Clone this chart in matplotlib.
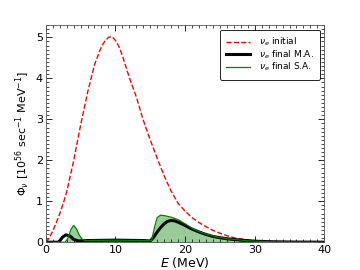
import matplotlib
matplotlib.use("Agg")
import matplotlib.pyplot as plt
from matplotlib.ticker import MultipleLocator

# initial nu_e spectrum
E_init = [0, 0.5, 1, 1.5, 2, 2.5, 3, 4, 5, 6, 7, 8, 8.5, 9, 9.5, 10, 10.5, 11, 12, 13, 14, 15, 16, 17,
          18, 19, 20, 21, 22, 23, 24, 25, 26, 27, 28, 29, 30, 32, 35, 40]
phi_init = [0, 0.1, 0.27, 0.47, 0.69, 0.94, 1.22, 1.98, 2.85, 3.65, 4.33, 4.78, 4.91, 5.0, 5.02, 4.93,
            4.78, 4.56, 4.02, 3.55, 2.98, 2.5, 2.05, 1.62, 1.25, 0.95, 0.76, 0.6, 0.48, 0.38, 0.29,
            0.22, 0.16, 0.11, 0.08, 0.055, 0.038, 0.018, 0.005, 0]

# final, multi-angle
E_ma = [0, 1.8, 2.1, 2.4, 2.9, 3.5, 4.0, 4.7, 6, 8, 10, 12, 14, 15, 15.5, 16, 16.5, 17, 17.5, 18,
        18.5, 19, 20, 21, 22, 23, 24, 25, 26, 27, 28, 29, 30, 32, 35, 40]
phi_ma = [0, 0, 0.05, 0.12, 0.18, 0.15, 0.07, 0.03, 0.04, 0.045, 0.05, 0.045, 0.04, 0.03, 0.12,
          0.25, 0.36, 0.45, 0.51, 0.53, 0.52, 0.49, 0.41, 0.32, 0.25, 0.19, 0.14, 0.11, 0.085,
          0.065, 0.05, 0.035, 0.025, 0.012, 0.004, 0]

# final, single-angle
E_sa = [0, 2.8, 3.2, 3.6, 4.0, 4.4, 4.8, 5.2, 5.6, 8, 10, 12, 14, 15.2, 15.6, 16.0, 16.5, 17, 18,
        19, 20, 21, 22, 23, 24, 25, 26, 27, 28, 29, 30, 32, 35, 40]
phi_sa = [0, 0, 0.1, 0.3, 0.41, 0.33, 0.18, 0.08, 0.04, 0.045, 0.05, 0.045, 0.04, 0.04, 0.35,
          0.6, 0.66, 0.65, 0.61, 0.55, 0.45, 0.34, 0.26, 0.2, 0.15, 0.115, 0.088, 0.067, 0.051,
          0.036, 0.026, 0.013, 0.004, 0]

fig = plt.figure(figsize=(3.6, 2.7), dpi=100)
ax = fig.add_axes([0.127, 0.103, 0.774, 0.804])

ax.fill_between(E_sa, 0, phi_sa, color='#008000', alpha=0.4, linewidth=0)
ax.plot(E_init, phi_init, color='red', linestyle='--', linewidth=1.0, label=r'$\nu_e$ initial')
ax.plot(E_ma, phi_ma, color='black', linewidth=2.2, label=r'$\nu_e$ final M.A.')
ax.plot(E_sa, phi_sa, color='#008000', linewidth=0.9, label=r'$\nu_e$ final S.A.')

ax.set_xlim(0, 40)
ax.set_ylim(0, 5.3)
ax.xaxis.set_major_locator(MultipleLocator(10))
ax.xaxis.set_minor_locator(MultipleLocator(1))
ax.yaxis.set_major_locator(MultipleLocator(1))
ax.yaxis.set_minor_locator(MultipleLocator(0.1))
ax.tick_params(which='both', direction='in', top=True, right=True, labelsize=8, pad=2)
ax.tick_params(which='major', length=4, width=0.6)
ax.tick_params(which='minor', length=2, width=0.5)
for s in ax.spines.values():
    s.set_linewidth(0.6)
    s.set_color('#555555')

ax.set_xlabel(r'$E$ (MeV)', fontsize=9, labelpad=0)
ax.set_ylabel(r'$\Phi_\nu$ [$10^{56}$ sec$^{-1}$ MeV$^{-1}$]', fontsize=8, labelpad=3)

leg = ax.legend(loc='upper right', fontsize=6.5, handlelength=2.6, labelspacing=0.0,
                borderpad=0.7, handletextpad=1.0, fancybox=True, framealpha=1,
                borderaxespad=0.5)
leg.get_frame().set_edgecolor('black')
leg.get_frame().set_linewidth(0.6)

plt.savefig('out.png', dpi=100)
